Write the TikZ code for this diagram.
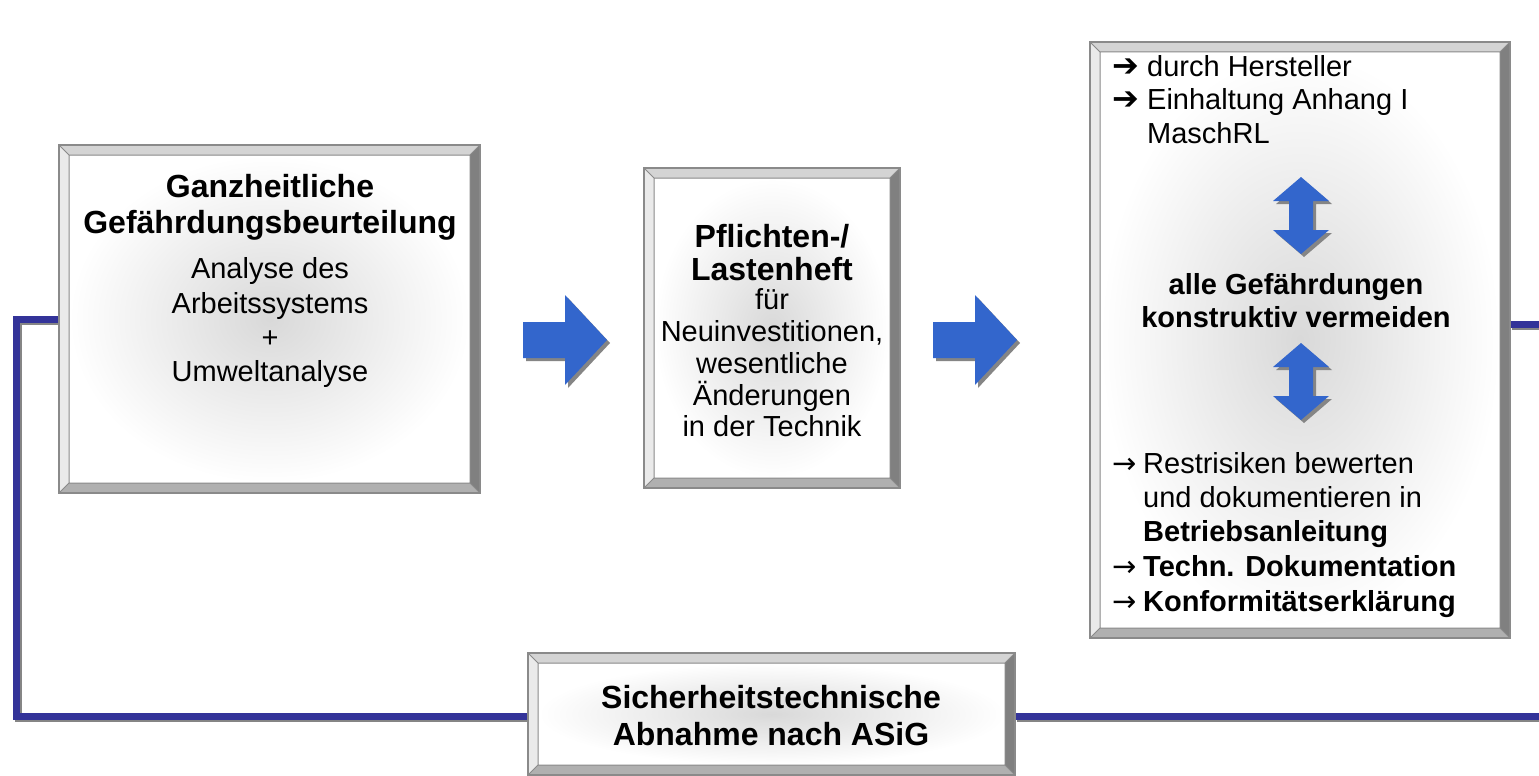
\documentclass[tikz,border=0pt]{standalone}
\usepackage{fontspec}
\setmainfont{Liberation Sans}
\newfontfamily\symfont{DejaVu Sans}
\usetikzlibrary{fit}
\definecolor{lineblue}{HTML}{333399}
\definecolor{arrblue}{HTML}{3366CC}
\definecolor{bevtop}{HTML}{D4D4D4}
\definecolor{bevleft}{HTML}{EAEAEA}
\definecolor{bevright}{HTML}{808080}
\definecolor{bevbot}{HTML}{B0B0B0}
\definecolor{bevedge}{HTML}{8A8A8A}
\definecolor{shadowgray}{HTML}{858585}
\newcommand\fbig{\fontsize{32}{37}\selectfont\bfseries}
\newcommand\fmid{\fontsize{29}{33}\selectfont}
\newcommand\fmidb{\fontsize{29}{33}\selectfont\bfseries}
\newcommand\harr{\makebox[35pt][l]{\fontsize{32}{33}\selectfont\symfont\bfseries ➔}}
\newcommand\tarr{\makebox[31pt][l]{\symfont →}}
\newcommand\boxnode[5]{\node[fit={(#2,#3)(#4,#5)}, inner sep=0pt, outer sep=0pt] (#1) {};}
\newcommand\bevelbox[4]{%
  \fill[white] (#1,#2) rectangle (#3,#4);
  \shade[inner color=gray!30, outer color=white] ({#1+10},{#2+10}) rectangle ({#3-10},{#4-10});
  \fill[bevtop] (#1,#2) -- (#3,#2) -- ({#3-10},{#2+10}) -- ({#1+10},{#2+10}) -- cycle;
  \fill[bevleft] (#1,#2) -- ({#1+10},{#2+10}) -- ({#1+10},{#4-10}) -- (#1,#4) -- cycle;
  \fill[bevright] (#3,#2) -- (#3,#4) -- ({#3-10},{#4-10}) -- ({#3-10},{#2+10}) -- cycle;
  \fill[bevbot] (#1,#4) -- (#3,#4) -- ({#3-10},{#4-10}) -- ({#1+10},{#4-10}) -- cycle;
  \draw[bevedge, line width=1pt] ({#1+10},{#2+10}) rectangle ({#3-10},{#4-10})
     (#1,#2) -- ({#1+10},{#2+10}) (#3,#2) -- ({#3-10},{#2+10})
     (#1,#4) -- ({#1+10},{#4-10}) (#3,#4) -- ({#3-10},{#4-10});
  \draw[bevedge, line width=1.5pt] (#1,#2) rectangle (#3,#4);
}
\newcommand\rarr[3]{% style, x0, yc
  \fill[#1] (#2,{#3-18}) -- ({#2+42},{#3-18}) -- ({#2+42},{#3-45}) -- ({#2+84},#3)
    -- ({#2+42},{#3+45}) -- ({#2+42},{#3+18}) -- (#2,{#3+18}) -- cycle;}
\newcommand\varr[4]{% style, xc, y0, y1
  \fill[#1] (#2,#3) -- ({#2+28},{#3+24}) -- ({#2+12},{#3+24}) -- ({#2+12},{#4-24})
    -- ({#2+28},{#4-24}) -- (#2,#4) -- ({#2-28},{#4-24}) -- ({#2-12},{#4-24})
    -- ({#2-12},{#3+24}) -- ({#2-28},{#3+24}) -- cycle;}
\tikzset{
  conn/.style={draw=lineblue, line width=7pt, line join=miter},
  connshadow/.style={draw=shadowgray, line width=7pt, line join=miter, transform canvas={shift={(2pt,-2pt)}}},
  arrfill/.style={fill=arrblue},
  arrshadow/.style={fill=shadowgray, transform canvas={shift={(3pt,-3pt)}}},
  ctxt/.style={inner sep=0pt, anchor=base},
  ltxt/.style={inner sep=0pt, anchor=base west},
}
\begin{document}
\begin{tikzpicture}[x=1pt, y=-1pt]
\useasboundingbox (0,0) rectangle (1539,776);
\fill[white] (0,0) rectangle (1539,776);
% box nodes
\boxnode{b1}{59}{145}{480}{493}
\boxnode{b2}{644}{168}{900}{488}
\boxnode{b3}{1090}{42}{1510}{638}
\boxnode{b4}{528}{653}{1015}{775}
\coordinate (Lb) at (16.5,716);
\coordinate (Rt) at (1539,324);
\coordinate (Rb) at (1539,716);
% connectors
\draw[connshadow] (b1.west) -| (Lb) -- (b4.west |- Lb);
\draw[connshadow] (b4.east |- Rb) -- (Rb);
\draw[connshadow] (b3.east |- Rt) -- (Rt);
\draw[conn] (b1.west) -| (Lb) -- (b4.west |- Lb);
\draw[conn] (b4.east |- Rb) -- (Rb);
\draw[conn] (b3.east |- Rt) -- (Rt);
% boxes
\bevelbox{59}{145}{480}{493}
\bevelbox{644}{168}{900}{488}
\bevelbox{1090}{42}{1510}{638}
\bevelbox{528}{653}{1015}{775}
% block arrows
\rarr{arrshadow}{523}{340}\rarr{arrfill}{523}{340}
\rarr{arrshadow}{933}{340}\rarr{arrfill}{933}{340}
\varr{arrshadow}{1301}{177}{254}\varr{arrfill}{1301}{177}{254}
\varr{arrshadow}{1301}{343}{420}\varr{arrfill}{1301}{343}{420}
% box 1 text
\node[ctxt] (t1a) at (270,197) {\fbig Ganzheitliche};
\node[ctxt] (t1b) at (270,233) {\fbig Gefährdungsbeurteilung};
\node[ctxt] (t1c) at (270,278) {\fmid Analyse des};
\node[ctxt] (t1d) at (270,313) {\fmid Arbeitssystems};
\node[ctxt] (t1e) at (270,347) {\fmid +};
\node[ctxt] (t1f) at (270,381) {\fmid Umweltanalyse};
% box 2 text
\node[ctxt] (t2a) at (772,247) {\fbig Pflichten-/};
\node[ctxt] (t2b) at (772,280) {\fbig Lastenheft};
\node[ctxt] (t2c) at (772,309) {\fmid für};
\node[ctxt] (t2d) at (772,341) {\fmid Neuinvestitionen,};
\node[ctxt] (t2e) at (772,373) {\fmid wesentliche};
\node[ctxt] (t2f) at (772,405) {\fmid Änderungen};
\node[ctxt] (t2g) at (772,436) {\fmid in der Technik};
% box 3 text
\node[ltxt] (t3a) at (1112,77) {\fmid\harr durch Hersteller};
\node[ltxt] (t3b) at (1112,110) {\fmid\harr Einhaltung Anhang I};
\node[ltxt] (t3c) at (1147,143) {\fmid MaschRL};
\node[ctxt] (t3d) at (1296,294) {\fmidb alle Gefährdungen};
\node[ctxt] (t3e) at (1296,327) {\fmidb konstruktiv vermeiden};
\node[ltxt] (t3f) at (1112,473) {\fmid\tarr Restrisiken bewerten};
\node[ltxt] (t3g) at (1143,507) {\fmid und dokumentieren in};
\node[ltxt] (t3h) at (1143,541) {\fmidb Betriebsanleitung};
\node[ltxt] (t3i) at (1112,576) {\fmid\tarr\bfseries Techn. Dokumentation};
\node[ltxt] (t3j) at (1112,611) {\fmid\tarr\bfseries Konformitätserklärung};
% box 4 text
\node[ctxt] (t4a) at (771,708) {\fbig Sicherheitstechnische};
\node[ctxt] (t4b) at (771,745) {\fbig Abnahme nach ASiG};
\end{tikzpicture}
\end{document}
